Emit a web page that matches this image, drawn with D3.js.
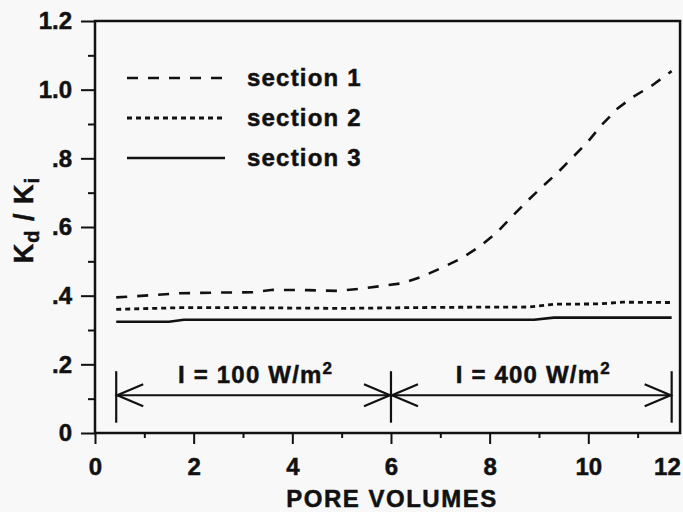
<!DOCTYPE html>
<html>
<head>
<meta charset="utf-8">
<script src="https://cdn.jsdelivr.net/npm/d3@7"></script>
<style>
  body { margin: 0; background: #f8f8f8; }
  svg { display: block; font-family: 'Liberation Sans', Arial, sans-serif; font-weight: bold; fill: #111; }
  svg text { stroke: #111; stroke-width: 0.5; }
</style>
</head>
<body>
<div id="chart"></div>
<script>
// Kd / Ki vs pore volumes
const section1 = [
  [0.43, 0.395], [1.0, 0.400], [1.72, 0.407], [2.5, 0.409], [3.2, 0.410], [3.61, 0.417],
  [4.3, 0.416], [4.91, 0.414], [5.43, 0.421], [5.9, 0.430], [6.22, 0.436], [6.62, 0.455],
  [7.03, 0.481], [7.43, 0.509], [7.80, 0.543], [8.14, 0.583], [8.45, 0.630], [8.75, 0.674],
  [9.08, 0.719], [9.39, 0.760], [9.69, 0.804], [9.99, 0.848], [10.27, 0.897], [10.60, 0.946],
  [10.91, 0.979], [11.3, 1.013], [11.69, 1.054]
]
const section2 = [
  [0.43, 0.360], [1.7, 0.365], [3, 0.365], [5, 0.363], [7, 0.366], [8.8, 0.367],
  [9.3, 0.375], [10.2, 0.376], [10.7, 0.381], [11.69, 0.380]
]
const section3 = [
  [0.43, 0.324], [1.5, 0.324], [1.8, 0.330], [5, 0.330], [8.9, 0.330], [9.3, 0.336], [11.69, 0.336]
]
const seriesNames = ['section 1', 'section 2', 'section 3']
const seriesDash = ['11,10', '5,4', null]

const xTicks = [0, 2, 4, 6, 8, 10, 12]
const xMinorTicks = [1, 3, 5, 7, 9, 11]
const yTicks = [0, 0.2, 0.4, 0.6, 0.8, 1.0, 1.2]
const yTickLabels = ['0', '.2', '.4', '.6', '.8', '1.0', '1.2']
const yMinorTicks = [0.1, 0.3, 0.5, 0.7, 0.9, 1.1]

// irradiance periods shown with the arrows
const periodLabels = ['100', '400']
const periodBounds = [0.43, 6, 11.69]
const arrowY = 0.11
const barRange = [0.03, 0.18]

const width = 683, height = 512
const margin = {top: 21, left: 95, bottom: 433}
const xFrameMax = 11.86

const x = d3.scaleLinear().domain([0, 12]).range([margin.left, margin.left + 12 * 49.33])
const y = d3.scaleLinear().domain([0, 1.2]).range([margin.bottom, margin.top])

const svg = d3.select('#chart').append('svg').attr('width', width).attr('height', height)

// minor ticks
svg.append('g').attr('transform', `translate(0,${margin.bottom})`)
  .call(d3.axisBottom(x).tickValues(xMinorTicks).tickSize(5).tickFormat(''))
svg.append('g').attr('transform', `translate(${margin.left},0)`)
  .call(d3.axisLeft(y).tickValues(yMinorTicks).tickSize(7).tickFormat(''))

// major ticks
const xAxis = svg.append('g').attr('transform', `translate(0,${margin.bottom})`)
  .call(d3.axisBottom(x).tickValues(xTicks).tickSize(11).tickPadding(14))
// the 12 tick falls past the frame; pull its label back into view
xAxis.selectAll('text').filter(d => d === 12).attr('x', -20)
svg.append('g').attr('transform', `translate(${margin.left},0)`)
  .call(d3.axisLeft(y).tickValues(yTicks).tickSize(14).tickPadding(9)
    .tickFormat((d, i) => yTickLabels[i]))

svg.selectAll('.domain').remove()
svg.selectAll('.tick line').attr('stroke', '#111').attr('stroke-width', 2)
svg.selectAll('.tick text').attr('fill', '#111').attr('font-size', 24)
  .attr('font-family', null).attr('font-weight', 'bold')

// frame
svg.append('rect')
  .attr('x', margin.left).attr('y', margin.top)
  .attr('width', x(xFrameMax) - margin.left).attr('height', margin.bottom - margin.top)
  .attr('fill', 'none').attr('stroke', '#111').attr('stroke-width', 2.5)

// data lines
const line = d3.line().x(d => x(d[0])).y(d => y(d[1]))
;[section1, section2, section3].forEach((data, i) => {
  svg.append('path').datum(data)
    .attr('d', line)
    .attr('fill', 'none').attr('stroke', '#111')
    .attr('stroke-width', i === 1 ? 2.8 : 2.6)
    .attr('stroke-dasharray', seriesDash[i])
})

// legend
seriesNames.forEach((name, i) => {
  const ly = 78 + i * 40
  svg.append('line')
    .attr('x1', 127).attr('x2', 225).attr('y1', ly).attr('y2', ly)
    .attr('stroke', '#111').attr('stroke-width', i === 1 ? 2.8 : 2.6)
    .attr('stroke-dasharray', seriesDash[i])
  svg.append('text').attr('x', 247).attr('y', ly + 8)
    .attr('font-size', 24).attr('letter-spacing', 1.2).text(name)
})

// irradiance arrows
const arrow = svg.append('g').attr('stroke', '#111').attr('stroke-width', 2.2).attr('fill', 'none')
periodBounds.forEach(b => {
  arrow.append('line').attr('x1', x(b)).attr('x2', x(b))
    .attr('y1', y(barRange[0])).attr('y2', y(barRange[1]))
})
const ay = y(arrowY), headL = 27, headH = 11
periodLabels.forEach((lab, i) => {
  const x0 = x(periodBounds[i]), x1 = x(periodBounds[i + 1])
  arrow.append('line').attr('x1', x0).attr('x2', x1).attr('y1', ay).attr('y2', ay)
  arrow.append('path').attr('d', `M${x0 + headL},${ay - headH}L${x0 + 1},${ay}L${x0 + headL},${ay + headH}`)
  arrow.append('path').attr('d', `M${x1 - headL},${ay - headH}L${x1 - 1},${ay}L${x1 - headL},${ay + headH}`)
  const t = svg.append('text').attr('x', (x0 + x1) / 2 + 2).attr('y', 383)
    .attr('text-anchor', 'middle').attr('font-size', 24).attr('letter-spacing', 1.2)
  t.append('tspan').text(`I = ${lab} W/m`)
  t.append('tspan').attr('font-size', 17).attr('dy', -9).text('2')
})

// axis titles
svg.append('text').attr('x', 392).attr('y', 507).attr('text-anchor', 'middle')
  .attr('font-size', 24).attr('letter-spacing', 1.5).text('PORE VOLUMES')

const yt = svg.append('text').attr('transform', 'translate(33,220) rotate(-90)')
  .attr('text-anchor', 'middle').attr('font-size', 27).attr('letter-spacing', 1)
yt.append('tspan').text('K')
yt.append('tspan').attr('font-size', 20).attr('dy', 6).text('d')
yt.append('tspan').attr('dy', -6).text(' / K')
yt.append('tspan').attr('font-size', 20).attr('dy', 6).text('i')
</script>
</body>
</html>
